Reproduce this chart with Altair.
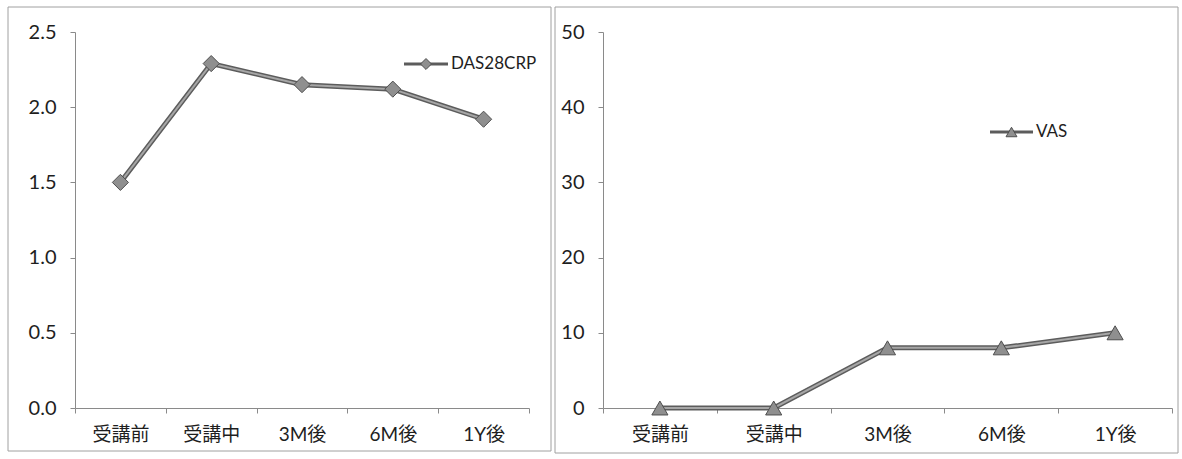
import altair as alt
import pandas as pd

# Time points of the course
stages = ["受講前", "受講中", "3M後", "6M後", "1Y後"]

# Series values
das28crp = [1.50, 2.29, 2.15, 2.12, 1.92]
vas = [0, 0, 8, 8, 10]

# Y axis tick values
das_ticks = [0.0, 0.5, 1.0, 1.5, 2.0, 2.5]
vas_ticks = [0, 10, 20, 30, 40, 50]

das_df = pd.DataFrame({"stage": stages, "value": das28crp})
vas_df = pd.DataFrame({"stage": stages, "value": vas})

LINE_DARK = "#5c5c5c"
LINE_LIGHT = "#a6a6a6"
MARK_FILL = "#8f8f8f"
MARK_EDGE = "#4f4f4f"
AXIS_GRAY = "#8a8a8a"
BOX_GRAY = "#a0a0a0"
TEXT_COLOR = "#1e1e1e"
NUM_FONT = "Lato"
LABEL_FONT = "Lato, Noto Sans CJK JP"

PLOT_H = 376


def panel(df, name, ticks, fmt, shape, width, box, legend):
    x_enc = alt.X(
        "stage:N",
        sort=stages,
        bandPosition=0.5,
        scale=alt.Scale(type="band", paddingInner=0, paddingOuter=0),
        axis=alt.Axis(
            title=None, grid=False, labelAngle=0, tickBand="extent",
            labelFont=LABEL_FONT, labelFontSize=19, labelColor=TEXT_COLOR,
            labelPadding=12, tickSize=5, domainColor=AXIS_GRAY,
            tickColor=AXIS_GRAY, domainWidth=1, tickWidth=1,
        ),
    )
    y_enc = alt.Y(
        "value:Q",
        scale=alt.Scale(domain=[ticks[0], ticks[-1]], nice=False),
        axis=alt.Axis(
            title=None, grid=False, values=ticks, format=fmt,
            labelFont=NUM_FONT, labelFontSize=20, labelColor=TEXT_COLOR,
            labelPadding=14, tickSize=5, domainColor=AXIS_GRAY,
            tickColor=AXIS_GRAY, domainWidth=1, tickWidth=1,
        ),
    )
    base = alt.Chart(df).encode(x=x_enc, y=y_enc)
    shadow = base.mark_line(color=LINE_DARK, strokeWidth=5)
    core = base.mark_line(color=LINE_LIGHT, strokeWidth=2)
    points = base.mark_point(
        shape=shape, filled=True, fill=MARK_FILL, stroke=MARK_EDGE,
        strokeWidth=1, size=260, opacity=1,
    )

    key_df = pd.DataFrame({"name": [name]})
    lx0, lx1, ly = legend
    key_line = alt.Chart(key_df).mark_rule(color=LINE_DARK, strokeWidth=3).encode(
        x=alt.value(lx0), x2=alt.value(lx1), y=alt.value(ly)
    )
    key_mark = alt.Chart(key_df).mark_point(
        shape=shape, filled=True, fill=MARK_FILL, stroke=MARK_EDGE,
        strokeWidth=1, size=120, opacity=1,
    ).encode(x=alt.value((lx0 + lx1) / 2), y=alt.value(ly))
    key_text = alt.Chart(key_df).mark_text(
        align="left", baseline="middle", font=NUM_FONT, fontSize=17,
        color=TEXT_COLOR,
    ).encode(x=alt.value(lx1 + 3), y=alt.value(ly), text="name:N")

    # outer border of the panel
    bx0, bx1, by0, by1 = box
    edge = alt.Chart(key_df).mark_rule(color=BOX_GRAY, strokeWidth=1)
    frame = [
        edge.encode(x=alt.value(bx0), x2=alt.value(bx1), y=alt.value(by0)),
        edge.encode(x=alt.value(bx0), x2=alt.value(bx1), y=alt.value(by1)),
        edge.encode(x=alt.value(bx0), y=alt.value(by0), y2=alt.value(by1)),
        edge.encode(x=alt.value(bx1), y=alt.value(by0), y2=alt.value(by1)),
    ]

    return alt.layer(*frame, shadow, core, points, key_line, key_mark, key_text).properties(
        width=width, height=PLOT_H,
    )


left = panel(das_df, "DAS28CRP", das_ticks, ".1f", "diamond", 454,
             (-67, 476, -25, 419), (329, 373, 32))
right = panel(vas_df, "VAS", vas_ticks, "d", "triangle-up", 569,
              (-48, 575, -25, 421), (387, 430, 100))

chart = (
    alt.hconcat(left, right, spacing=2)
    .properties(padding={"left": 7, "top": 6, "right": 0, "bottom": 0})
    .configure(background="white")
    .configure_view(stroke="transparent", strokeWidth=0)
)

chart.save("out.html", embed_options={"renderer": "svg", "actions": False})
